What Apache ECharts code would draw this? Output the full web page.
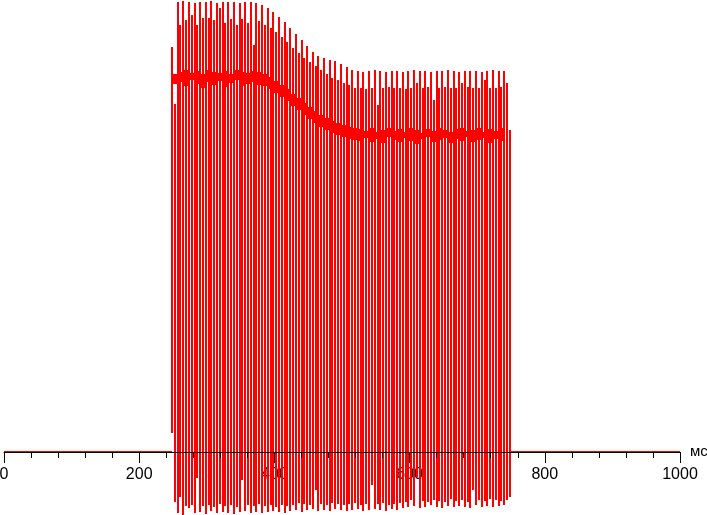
<!DOCTYPE html>
<html>
<head>
<meta charset="utf-8">
<script src="https://cdn.jsdelivr.net/npm/echarts@6/dist/echarts.min.js"></script>
<style>
html,body{margin:0;padding:0;background:#fff;}
#chart{width:707px;height:515px;}
</style>
</head>
<body>
<div id="chart"></div>
<script>
// ---- data (brightness in relative units, 0 = baseline) ----
const xTicks = [0, 200, 400, 600, 800, 1000];
const xUnit = 'мс';
const cycleStart = 248.5;   // ms, first pulse
const cyclePeriod = 8.33;   // ms between pulses

// main pulse per cycle: upper and lower extremes
const pulseHi = [405,
  450,451,450,449,450,450,451,449,450,450,450,449,450,450,449,447,
  444,440,435,430,424,418,412,406,400,396,394,392,391,388,385,382,
  381,380,381,382,381,380,381,381,380,381,382,381,381,380,381,381,382,381,380,381,381,381,380,381,382,381,381,
  322];
const pulseLo = [19,
  -61,-63,-56,-61,-60,-62,-59,-61,-60,-61,-62,-60,-59,-61,-60,-61,-60,-59,-60,-61,
  -59,-58,-60,-58,-57,-59,-58,-59,-57,-58,-59,-58,-57,-59,-58,-57,-58,-59,-57,-58,
  -56,-55,-54,-56,-55,-53,-55,-56,-54,-55,-54,-55,-56,-53,-55,-54,-55,-54,-53,
  -45];
// secondary pulse (half period later)
const subHi = [348,
  427,432,437,427,434,434,432,444,429,433,427,433,429,407,431,
  427,424,420,415,410,404,399,394,390,386,382,378,374,372,369,367,364,
  364,363,364,347,364,365,364,364,363,364,369,364,365,352,364,365,364,364,369,365,364,364,372,364,364,365,369];
const subLo = [-50,
  -45,-54,-53,-26,-54,-53,-55,-52,-54,-53,-55,-28,-53,-54,-52,-54,-53,-55,-53,-54,
  -53,-51,-52,-53,-38,-52,-53,-51,-52,-53,-52,-51,-53,-52,-33,-52,-51,-53,-52,-51,
  -50,-48,-25,-49,-50,-48,-49,-50,-47,-49,-48,-50,-38,-48,-49,-47,-48,-49,-48];
// mean-level band per cycle
const bandHi = [378,380,382,379,381,378,382,380,379,381,378,382,380,379,381,380,
  378,375,371,367,363,358,354,349,345,341,337,334,331,329,327,325,324,
  323,321,324,320,322,324,321,323,320,324,322,319,323,321,324,322,320,323,324,321,322,324,320,323,321,324,322];
const bandLo = [368,370,366,372,368,364,370,367,371,365,369,372,366,368,370,367,
  366,363,359,355,351,346,342,337,333,329,325,322,319,317,315,313,312,
  311,314,310,313,309,315,312,310,314,311,308,313,315,310,312,314,309,313,311,315,310,312,314,309,313,311];
// flat baseline outside the burst
const baseBefore = [[0, 0.5], [248.5, 0.5]];
const baseAfter = [[748.3, 0.5], [1000, 0.5]];

// ---- build series data ----
const columns = [];
for (let k = 0; k < pulseHi.length; k++) {
  const t = cycleStart + k * cyclePeriod;
  columns.push([t, pulseHi[k], pulseLo[k]]);
  if (k < subHi.length) columns.push([t + cyclePeriod / 2, subHi[k], subLo[k]]);
}
const band = [];
for (let k = 0; k < bandHi.length; k++) {
  const t = cycleStart + k * cyclePeriod;
  band.push([t, t + cyclePeriod, bandHi[k], bandLo[k]]);
}

const RED = '#ff0000';
function renderColumn(params, api) {
  const a = api.coord([api.value(0), api.value(1)]);
  const b = api.coord([api.value(0), api.value(2)]);
  const x = Math.round(a[0]) - 1;
  const y1 = Math.round(a[1]), y2 = Math.round(b[1]);
  return { type: 'rect', shape: { x: x, y: y1, width: 2, height: y2 - y1 }, style: { fill: RED } };
}
function renderBand(params, api) {
  const a = api.coord([api.value(0), api.value(2)]);
  const b = api.coord([api.value(1), api.value(3)]);
  const x1 = Math.round(a[0]), x2 = Math.round(b[0]);
  const y1 = Math.round(a[1]), y2 = Math.round(b[1]);
  return { type: 'rect', shape: { x: x1, y: y1, width: x2 - x1, height: y2 - y1 }, style: { fill: RED } };
}

const chart = echarts.init(document.getElementById('chart'), null, { renderer: 'canvas' });
const font = '"Liberation Sans", Arial, sans-serif';
chart.setOption({
  animation: false,
  backgroundColor: '#ffffff',
  grid: { left: 4, right: 27, top: 0, bottom: 0, containLabel: false, outerBoundsMode: 'none' },
  xAxis: [
    {
      type: 'value', min: xTicks[0], max: xTicks[xTicks.length - 1], interval: 200,
      position: 'bottom', offset: -63, z: 0,
      axisLine: { show: false, onZero: false },
      axisTick: { show: false },
      splitLine: { show: false },
      axisLabel: { show: true, color: '#000', fontSize: 16, fontFamily: font, margin: 15,
        formatter: function (v) { return String(v); },
        showMinLabel: true, showMaxLabel: true, hideOverlap: false }
    },
    {
      type: 'value', min: xTicks[0], max: xTicks[xTicks.length - 1], interval: 200,
      position: 'bottom', offset: -63, z: 10,
      name: xUnit, nameLocation: 'end', nameGap: 10,
      nameTextStyle: { color: '#000', fontSize: 15, fontFamily: font },
      axisLine: { show: true, onZero: false, lineStyle: { color: '#000', width: 1 } },
      axisTick: { show: true, length: 11, lineStyle: { color: '#000', width: 1 } },
      minorTick: { show: true, splitNumber: 5, length: 6, lineStyle: { color: '#000', width: 1 } },
      splitLine: { show: false },
      minorSplitLine: { show: false },
      axisLabel: { show: false }
    }
  ],
  yAxis: { type: 'value', min: -63, max: 452, show: false, splitLine: { show: false } },
  series: [
    { type: 'custom', renderItem: renderBand, data: band, encode: { x: [0, 1], y: [2, 3] }, z: 2, silent: true },
    { type: 'custom', renderItem: renderColumn, data: columns, encode: { x: 0, y: [1, 2] }, z: 3, silent: true },
    { type: 'line', data: baseBefore, symbol: 'none', lineStyle: { color: RED, width: 1 }, z: 3, silent: true },
    { type: 'line', data: baseAfter, symbol: 'none', lineStyle: { color: RED, width: 1 }, z: 3, silent: true }
  ]
});
</script>
</body>
</html>
